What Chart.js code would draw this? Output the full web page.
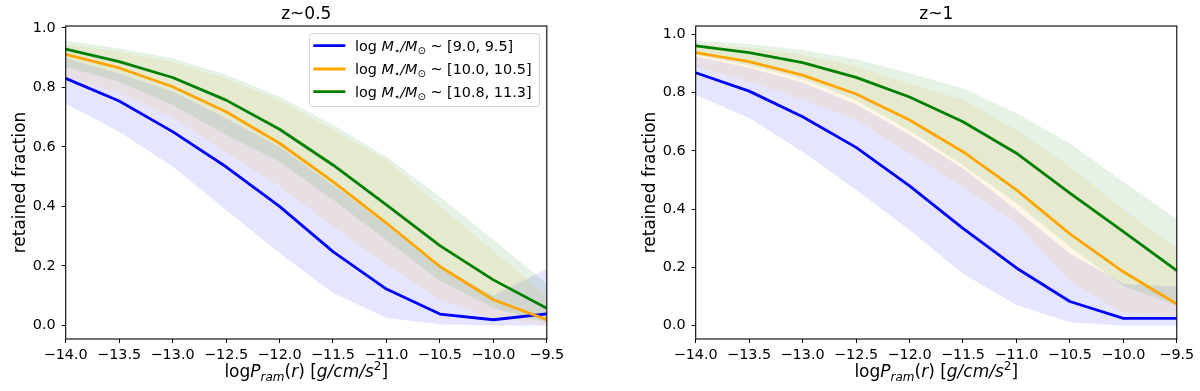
<!DOCTYPE html>
<html><head><meta charset="utf-8">
<script src="https://cdn.jsdelivr.net/npm/chart.js@4/dist/chart.umd.min.js"></script>
<style>
html,body{margin:0;padding:0;background:#fff;}
#wrap{display:flex;width:1200px;height:391px;}
canvas{display:block;}
</style></head><body>
<div id="wrap"><canvas id="c1" width="600" height="391"></canvas><canvas id="c2" width="600" height="391"></canvas></div>
<script>
// ---------- data ----------
const xValues = [-14.0, -13.5, -13.0, -12.5, -12.0, -11.5, -11.0, -10.5, -10.0, -9.5];
const xTicks = [-14.0, -13.5, -13.0, -12.5, -12.0, -11.5, -11.0, -10.5, -10.0, -9.5];
const yTicks = [0.0, 0.2, 0.4, 0.6, 0.8, 1.0];
const massRanges = ['[9.0, 9.5]', '[10.0, 10.5]', '[10.8, 11.3]'];
const panelTitles = ['z~0.5', 'z~1'];
const yAxisTitle = 'retained fraction';

// z ~ 0.5
const blueMid05   = [0.830, 0.754, 0.651, 0.533, 0.400, 0.248, 0.122, 0.038, 0.019, 0.039];
const blueLo05    = [0.745, 0.651, 0.534, 0.388, 0.243, 0.109, 0.025, 0.004, 0.000, 0.000];
const blueHi05    = [0.898, 0.847, 0.786, 0.696, 0.600, 0.472, 0.337, 0.195, 0.100, 0.190];
const orangeMid05 = [0.911, 0.865, 0.802, 0.718, 0.612, 0.483, 0.344, 0.198, 0.086, 0.019];
const orangeLo05  = [0.836, 0.780, 0.697, 0.580, 0.467, 0.332, 0.204, 0.085, 0.025, 0.000];
const orangeHi05  = [0.945, 0.920, 0.885, 0.830, 0.755, 0.657, 0.556, 0.400, 0.250, 0.100];
const greenMid05  = [0.928, 0.886, 0.833, 0.757, 0.659, 0.539, 0.405, 0.268, 0.153, 0.058];
const greenLo05   = [0.869, 0.819, 0.741, 0.640, 0.550, 0.422, 0.287, 0.150, 0.058, 0.010];
const greenHi05   = [0.957, 0.931, 0.898, 0.842, 0.769, 0.674, 0.567, 0.433, 0.288, 0.140];

// z ~ 1
const blueMid1   = [0.868, 0.805, 0.717, 0.612, 0.480, 0.334, 0.198, 0.083, 0.025, 0.025];
const blueLo1    = [0.792, 0.712, 0.597, 0.466, 0.328, 0.178, 0.071, 0.012, 0.000, 0.000];
const blueHi1    = [0.925, 0.885, 0.835, 0.760, 0.655, 0.540, 0.397, 0.248, 0.145, 0.134];
const orangeMid1 = [0.937, 0.906, 0.860, 0.795, 0.706, 0.597, 0.466, 0.315, 0.185, 0.074];
const orangeLo1  = [0.889, 0.837, 0.775, 0.706, 0.590, 0.477, 0.351, 0.151, 0.043, 0.037];
const orangeHi1  = [0.968, 0.955, 0.930, 0.890, 0.830, 0.775, 0.672, 0.546, 0.400, 0.266];
const greenMid1  = [0.960, 0.937, 0.903, 0.852, 0.785, 0.700, 0.592, 0.455, 0.323, 0.189];
const greenLo1   = [0.930, 0.893, 0.847, 0.773, 0.670, 0.551, 0.420, 0.271, 0.135, 0.070];
const greenHi1   = [0.978, 0.967, 0.946, 0.914, 0.866, 0.815, 0.729, 0.626, 0.494, 0.366];

// ---------- styling ----------
const COLORS = ['#0000ff', '#ffa500', '#008000'];
const BANDS = ['rgba(0,0,255,0.1)', 'rgba(255,165,0,0.1)', 'rgba(0,128,0,0.1)'];
const FONT = 'DejaVu Sans';
const TICK_SIZE = 14.4;
Chart.defaults.font.family = FONT;
Chart.defaults.font.size = TICK_SIZE;
Chart.defaults.color = '#000';

function pts(arr) { return arr.map((y, i) => ({x: xValues[i], y})); }

function buildDatasets(series) {
  const ds = [];
  series.forEach((s, k) => {
    const base = ds.length;
    ds.push({data: pts(s.hi), fill: base + 1, backgroundColor: BANDS[k], borderColor: 'rgba(0,0,0,0)',
             borderWidth: 0, pointRadius: 0, order: 12 - k, tension: 0});
    ds.push({data: pts(s.lo), fill: false, borderColor: 'rgba(0,0,0,0)', borderWidth: 0,
             pointRadius: 0, order: 20, tension: 0});
  });
  series.forEach((s, k) => {
    ds.push({data: pts(s.mid), fill: false, borderColor: COLORS[k], borderWidth: 2.8,
             pointRadius: 0, order: 2 - k, tension: 0, borderJoinStyle: 'round', borderCapStyle: 'butt'});
  });
  return ds;
}

function fontStr(style, size) { return (style === 'i' ? 'italic ' : '') + size + 'px "' + FONT + '"'; }
function drawRich(ctx, parts, x, y, align) {
  let w = 0;
  parts.forEach(p => { ctx.font = fontStr(p[1], p[2]); w += ctx.measureText(p[0]).width; });
  let cx = align === 'center' ? x - w / 2 : x;
  ctx.textAlign = 'left';
  ctx.textBaseline = 'alphabetic';
  parts.forEach(p => {
    ctx.font = fontStr(p[1], p[2]);
    ctx.fillText(p[0], cx, y + (p[3] || 0));
    cx += ctx.measureText(p[0]).width;
  });
}

function decorPlugin(title, yTitleX, withLegend) {
  return {
    id: 'decor',
    afterDatasetsDraw(chart) {
      const ctx = chart.ctx, a = chart.chartArea;
      ctx.save();
      ctx.strokeStyle = '#000';
      ctx.lineWidth = 1.1;
      ctx.strokeRect(a.left, a.top, a.right - a.left, a.bottom - a.top);
      ctx.restore();
    },
    afterDraw(chart) {
      const ctx = chart.ctx, a = chart.chartArea;
      const cx = (a.left + a.right) / 2;
      ctx.save();
      ctx.fillStyle = '#000';
      // title
      ctx.font = fontStr('n', 17);
      ctx.textAlign = 'center';
      ctx.textBaseline = 'alphabetic';
      ctx.fillText(title, cx, 18.5);
      // y title
      ctx.save();
      ctx.translate(yTitleX, (a.top + a.bottom) / 2);
      ctx.rotate(-Math.PI / 2);
      ctx.font = fontStr('n', 17);
      ctx.textAlign = 'center';
      ctx.fillText(yAxisTitle, 0, 0);
      ctx.restore();
      // x title
      drawRich(ctx, [['log', 'n', 17], ['P', 'i', 17], ['ram', 'i', 12, 4], ['(', 'n', 17], ['r', 'i', 17],
                     [')', 'n', 17], [' [', 'n', 17], ['g/cm/s', 'i', 17], ['2', 'n', 12, -7], [']', 'n', 17]],
               cx, 377, 'center');
      if (withLegend) {
        const bx = 309.5, by = 33.5, bw = 230, bh = 73, r = 3;
        ctx.beginPath();
        ctx.moveTo(bx + r, by);
        ctx.arcTo(bx + bw, by, bx + bw, by + bh, r);
        ctx.arcTo(bx + bw, by + bh, bx, by + bh, r);
        ctx.arcTo(bx, by + bh, bx, by, r);
        ctx.arcTo(bx, by, bx + bw, by, r);
        ctx.closePath();
        ctx.fillStyle = 'rgba(255,255,255,0.8)';
        ctx.fill();
        ctx.strokeStyle = '#d4d4d4';
        ctx.lineWidth = 1;
        ctx.stroke();
        const rows = [45.7, 69, 91.7];
        massRanges.forEach((m, k) => {
          ctx.strokeStyle = COLORS[k];
          ctx.lineWidth = 2.8;
          ctx.beginPath();
          ctx.moveTo(313.3, rows[k]);
          ctx.lineTo(345.3, rows[k]);
          ctx.stroke();
          ctx.fillStyle = '#000';
          drawRich(ctx, [['log ', 'n', TICK_SIZE], ['M', 'i', TICK_SIZE], ['\u22C6', 'n', 10, 3], ['/', 'i', TICK_SIZE],
                         ['M', 'i', TICK_SIZE], ['\u2299', 'n', 10, 3], [' ~ ' + m, 'n', TICK_SIZE]],
                   355, rows[k] + 5, 'left');
        });
      }
      ctx.restore();
    }
  };
}

function makeChart(id, series, yMin, yMax, yAxisWidth, padRight, title, yTitleX, withLegend) {
  return new Chart(document.getElementById(id), {
    type: 'line',
    data: {datasets: buildDatasets(series)},
    options: {
      responsive: false,
      animation: false,
      devicePixelRatio: 1,
      layout: {padding: {left: 0, top: 26, right: padRight, bottom: 0}},
      plugins: {legend: {display: false}, title: {display: false}, tooltip: {enabled: false},
                filler: {propagate: false}},
      scales: {
        x: {
          type: 'linear', min: -14, max: -9.5,
          afterBuildTicks: s => { s.ticks = xTicks.map(v => ({value: v})); },
          afterFit: s => { s.height = 52; },
          grid: {display: true, drawOnChartArea: false, drawTicks: true, tickLength: 4, tickColor: '#000', tickWidth: 1},
          border: {display: false},
          ticks: {autoSkip: false, maxRotation: 0, padding: 4, color: '#000', font: {size: TICK_SIZE},
                  callback: v => (v < 0 ? '\u2212' : '') + Math.abs(v).toFixed(1)}
        },
        y: {
          type: 'linear', min: yMin, max: yMax,
          afterBuildTicks: s => { s.ticks = yTicks.map(v => ({value: v})); },
          afterFit: s => { s.width = yAxisWidth; },
          grid: {display: true, drawOnChartArea: false, drawTicks: true, tickLength: 4, tickColor: '#000', tickWidth: 1},
          border: {display: false},
          ticks: {padding: 6, color: '#000', font: {size: TICK_SIZE}, callback: v => v.toFixed(1)}
        }
      }
    },
    plugins: [decorPlugin(title, yTitleX, withLegend)]
  });
}

makeChart('c1', [
  {mid: blueMid05, lo: blueLo05, hi: blueHi05},
  {mid: orangeMid05, lo: orangeLo05, hi: orangeHi05},
  {mid: greenMid05, lo: greenLo05, hi: greenHi05}
], -0.0457, 1.006, 65.7, 53.2, panelTitles[0], 25, true);

makeChart('c2', [
  {mid: blueMid1, lo: blueLo1, hi: blueHi1},
  {mid: orangeMid1, lo: orangeLo1, hi: orangeHi1},
  {mid: greenMid1, lo: greenLo1, hi: greenHi1}
], -0.0457, 1.0285, 95.7, 23.2, panelTitles[1], 55, false);
</script>
</body></html>
